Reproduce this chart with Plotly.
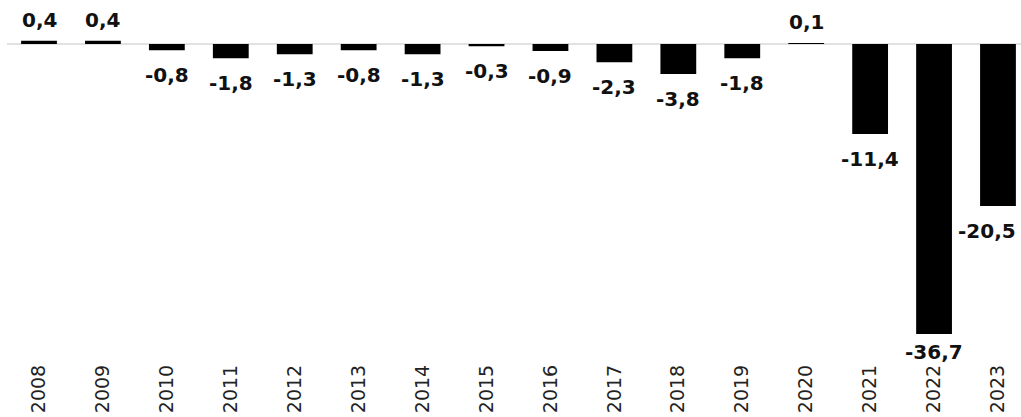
import plotly.graph_objects as go

years = ["2008", "2009", "2010", "2011", "2012", "2013", "2014", "2015",
         "2016", "2017", "2018", "2019", "2020", "2021", "2022", "2023"]
values = [0.4, 0.4, -0.8, -1.8, -1.3, -0.8, -1.3, -0.3,
          -0.9, -2.3, -3.8, -1.8, 0.1, -11.4, -36.7, -20.5]
labels = ["0,4", "0,4", "-0,8", "-1,8", "-1,3", "-0,8", "-1,3", "-0,3",
          "-0,9", "-2,3", "-3,8", "-1,8", "0,1", "-11,4", "-36,7", "-20,5"]

fig = go.Figure()
fig.add_trace(go.Bar(
    x=years, y=values,
    marker=dict(color="#000000", line=dict(width=0)),
    hoverinfo="skip",
))

n = len(years)
annotations = []
for i, (v, lab) in enumerate(zip(values, labels)):
    if v >= 0:
        ys = 21
    elif v > -30:
        ys = -25
    else:
        ys = -18
    annotations.append(dict(
        x=i, y=v, xref="x", yref="y", text="<b>" + lab + "</b>", showarrow=False,
        yanchor="middle", xanchor="center",
        yshift=ys,
        xshift=-11 if i == n - 1 else 0,
        font=dict(family="DejaVu Sans", size=20, color="#111111"),
    ))

fig.update_layout(
    width=1021, height=417,
    margin=dict(l=0, r=0, t=0, b=57, autoexpand=False),
    paper_bgcolor="white", plot_bgcolor="white",
    bargap=0.44,
    showlegend=False,
    annotations=annotations,
    shapes=[dict(type="line", xref="x", yref="y", x0=-0.5, x1=15.5, y0=0, y1=0,
                 line=dict(color="#c4c4c4", width=1), layer="below")],
    xaxis=dict(
        type="category", range=[-0.61, 15.36], automargin=False,
        tickangle=-90, showgrid=False, zeroline=False, showline=False,
        ticks="", ticklabelstandoff=0,
        tickfont=dict(family="DejaVu Sans", size=19, color="#222222"),
    ),
    yaxis=dict(
        range=[-40, 5.57], visible=False, showgrid=False, zeroline=False,
        automargin=False,
    ),
)

fig.write_html("out.html", config={"displayModeBar": False},
               post_script="document.body.style.margin='0';document.body.style.padding='0';")
